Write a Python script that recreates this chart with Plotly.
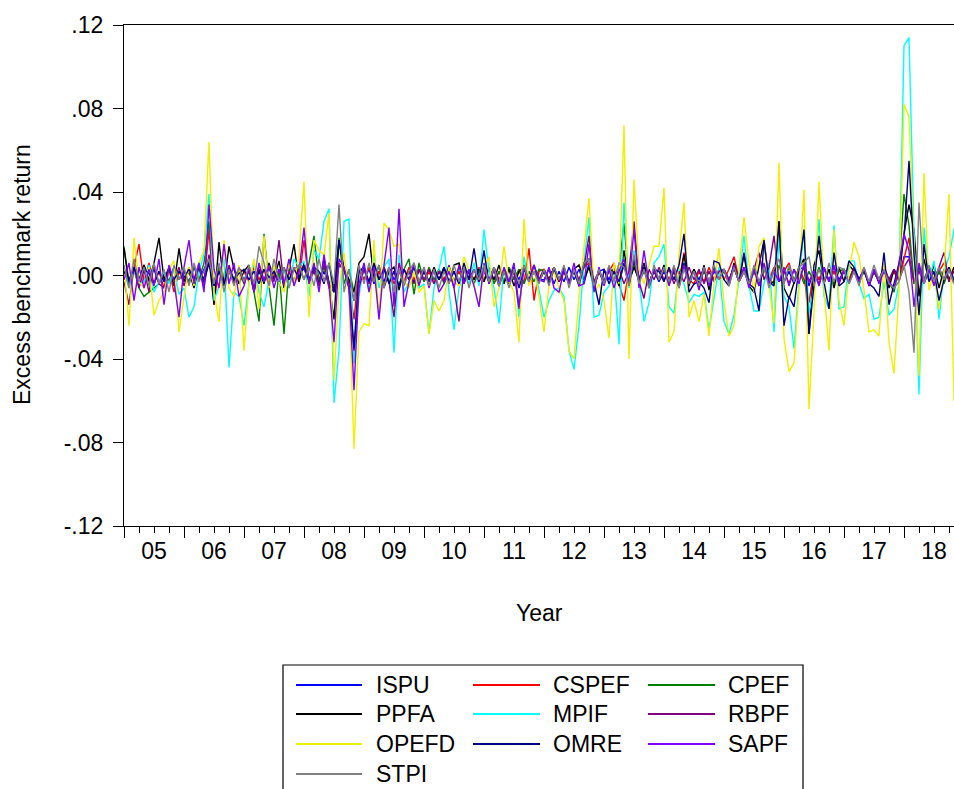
import plotly.graph_objects as go

# ---- data (values in units of 0.001, monthly 2005M01..2018M12) ----
years = ["05", "06", "07", "08", "09", "10", "11", "12", "13", "14", "15", "16", "17", "18"]
series_names = ["ISPU", "CSPEF", "CPEF", "PPFA", "MPIF", "RBPF", "OPEFD", "OMRE", "SAPF", "STPI"]
series_colors = ["#0000FF", "#FF0000", "#008000", "#000000", "#00FFFF", "#800080",
                 "#F0F000", "#000080", "#8000FF", "#808080"]

ISPU = [3,-2,4,-3,5,-2,3,-4,2,-3,4,-2,
        2,-3,4,-2,3,8,-4,2,-3,4,-2,3,
        -2,3,-4,2,-3,4,-2,3,-4,2,-3,2,
        3,-2,4,-3,2,-4,-8,5,3,-2,-12,3,
        -2,3,-4,2,-3,4,-2,3,-4,2,-3,2,
        2,-3,3,-2,4,-3,2,-4,3,-2,3,-3,
        3,-2,4,-3,2,-4,3,-2,4,-3,2,-2,
        -2,3,-4,2,-3,4,-2,3,-4,6,-3,2,
        3,-2,4,-3,5,-4,6,-2,3,-4,2,-3,
        2,-3,4,-2,6,-4,3,-2,4,-3,2,-2,
        3,-2,4,-3,2,-4,3,-5,4,-2,3,-2,
        -3,2,-4,3,4,-5,3,-2,4,-3,2,-2,
        2,-3,4,-2,3,-4,2,-3,4,-2,3,-2,
        9,9,-3,4,-2,3,-4,2,-3,4,-2,2]

CSPEF = [2,-5,4,15,-3,6,-4,2,-6,3,-8,2,
         -3,4,-2,6,-4,22,-14,5,-3,2,-4,3,
         2,-3,4,-2,3,-5,2,-4,3,-2,4,-3,
         17,-4,3,-2,5,-6,-4,6,2,-4,-21,3,
         -2,4,-3,2,-5,3,-4,2,-3,4,-2,3,
         -3,2,-4,3,-2,4,-3,2,-4,3,-2,4,
         -2,3,-4,2,-3,4,-2,3,-4,13,-12,2,
         3,-2,4,-3,2,-4,3,-2,4,6,-3,2,
         -3,2,6,-4,-12,3,5,-2,4,-3,2,-2,
         3,-2,4,-3,11,-2,-4,2,-3,4,-2,3,
         -2,3,9,-2,4,-3,2,-4,3,-2,4,-3,
         2,6,-3,4,-2,-13,3,-2,4,-3,2,-4,
         3,-2,4,-3,2,-4,3,-2,4,-3,2,-3,
         8,18,-4,3,-2,4,-3,2,6,-3,4,-2]

CPEF = [14,-4,3,-6,-10,-8,-6,-4,2,-3,4,-2,
        3,-4,5,-2,6,26,-3,4,-5,3,-2,4,
        -3,2,-8,-22,20,-5,-24,3,-28,4,-3,5,
        -2,6,19,-3,4,-5,-6,18,-4,3,-8,2,
        3,-4,5,-2,4,-3,2,-5,3,8,-9,6,
        -3,4,-2,3,-4,2,-3,4,-2,3,-4,2,
        -2,3,-4,2,-3,4,-2,3,-4,2,-3,3,
        2,-3,4,-2,3,-4,2,-3,4,8,-4,2,
        -3,4,-2,3,25,-4,5,-3,2,-4,3,-2,
        3,-4,2,-3,4,-2,3,-4,2,-3,4,-2,
        2,-3,4,-2,3,-5,2,-4,3,-2,-4,5,
        -3,4,-2,3,-4,2,-3,4,-2,3,-4,2,
        3,-2,4,-3,2,-4,3,-2,4,-3,-8,4,
        39,24,-4,3,-2,4,-3,2,-4,3,-2,2]

PPFA = [13,-4,3,-2,5,-3,6,18,-2,4,-5,13,
        -3,2,-6,4,-2,8,-14,16,-5,14,3,-4,
        2,5,-8,3,-4,6,-2,7,-6,3,15,-3,
        6,-2,4,-5,8,-3,-21,17,3,-2,-8,6,
        9,20,-3,5,-6,2,4,-7,3,-2,5,-4,
        2,-3,4,-2,3,-4,5,6,-3,2,-2,3,
        -3,4,-2,5,-4,3,-5,2,4,-3,2,-2,
        3,-2,4,-3,2,-4,3,5,-2,4,-6,2,
        -4,3,2,-5,12,-3,4,-2,6,-4,3,-2,
        5,-3,2,-4,10,-5,3,-6,5,-7,4,-2,
        3,-4,6,-3,10,-5,-8,4,17,-4,-3,26,
        -6,-11,-3,4,8,-28,5,12,-4,3,-6,4,
        -3,5,2,-4,3,-5,2,-3,4,-6,3,-2,
        20,34,22,-10,8,-3,5,-6,3,-2,4,-1]

MPIF = [3,-6,2,-4,-3,5,-8,-3,2,-4,3,-9,
        -6,-20,-15,2,10,39,-12,-5,8,-44,-8,-10,
        -24,-3,6,-8,-15,-2,5,-4,3,-6,8,4,
        7,-10,12,8,26,32,-61,-36,26,27,-42,-10,
        6,-8,10,-6,4,8,-37,10,-8,-3,5,-6,
        -4,-28,-6,3,14,-8,-26,-6,3,-4,6,-5,
        22,2,-6,-23,4,-3,6,-20,9,-4,5,-7,
        -20,-12,-7,-6,-10,-36,-45,-24,6,28,-20,-19,
        -8,-5,2,-33,35,-6,12,-3,-22,-13,6,9,
        15,-15,-18,3,-4,-13,-9,-10,-8,-26,-10,4,
        -22,-28,-19,-2,19,-5,-17,-17,-4,6,-27,19,
        -10,-15,-35,-4,22,-18,-6,27,-10,-16,24,-16,
        -15,7,7,-4,-11,-9,-21,-20,-3,-19,-16,-4,
        110,114,20,-57,23,-2,7,-21,2,9,22,20]

RBPF = [-3,-14,4,-6,3,-8,5,-4,-6,3,-2,4,
        -5,3,-2,4,-6,10,-3,2,-4,5,-3,2,
        -4,3,-6,5,-2,4,-3,17,-5,2,-4,3,
        4,-3,2,-5,6,-4,-8,5,3,-4,-36,-6,
        3,-4,5,-2,4,-3,-20,6,-3,2,-4,3,
        -2,3,-4,2,-3,5,-6,-22,4,-2,3,-3,
        2,-3,4,-2,3,-4,2,-16,5,-3,2,-2,
        3,-2,4,-3,2,-4,3,-2,4,19,-5,2,
        -3,4,-2,3,-4,2,26,-3,-11,3,-2,4,
        -2,3,-4,2,-3,4,-2,3,-4,2,-3,2,
        3,-2,4,-3,2,-4,3,11,-2,4,19,-3,
        2,-4,3,-2,4,-3,2,-4,3,-2,4,-3,
        2,-3,4,-2,3,-4,2,-3,4,-2,3,-2,
        4,8,-3,2,-4,3,-2,4,11,-3,2,-2]

OPEFD = [5,-24,18,-3,-6,4,-19,-12,-8,3,7,-27,
         -10,4,-5,6,12,64,-8,-22,17,-6,-10,5,
         -36,-4,8,-16,19,-6,5,-3,-8,6,-4,9,
         45,-20,17,12,10,30,-50,-6,11,-10,-83,-27,
         -23,-24,17,-21,25,22,14,15,-3,-6,2,-8,
         -5,-28,-12,-17,-12,4,-3,-5,9,2,-4,-15,
         3,9,-15,-6,14,-3,-8,-32,27,-5,3,-10,
         -27,-4,2,-6,-12,-36,-40,-10,15,37,-8,-4,
         -12,-30,6,-4,72,-40,46,3,-4,5,14,14,
         42,-32,-27,10,35,-20,-12,-22,-9,-29,-4,13,
         -13,-29,-24,3,28,6,-8,14,18,-5,-23,54,
         -30,-46,-42,-6,41,-64,-18,45,-7,-36,22,-12,
         -24,2,16,9,-7,-27,-26,-29,6,-32,-47,-7,
         82,76,18,-48,49,-7,2,-16,2,39,-60,-10]

OMRE = [2,-3,4,-2,3,1,-4,2,-3,3,-2,2,
        -1,3,-2,4,-3,6,-5,2,-4,3,-2,1,
        3,-2,2,-4,3,-1,2,-3,4,-2,3,-1,
        5,-3,4,2,-4,6,-8,17,3,-6,-35,2,
        4,-3,6,-2,3,-4,2,-5,3,-2,4,-3,
        2,-3,3,-2,4,-3,2,-4,6,-2,13,-3,
        12,-4,3,-5,2,-3,4,-6,3,-2,5,-3,
        2,-4,3,-2,4,-3,2,-5,6,8,-3,-14,
        3,-4,2,-3,6,-5,8,-3,4,-6,3,2,
        -3,4,-2,5,20,-8,-4,-3,-6,-13,7,6,
        -2,-5,4,-3,11,-4,-6,-17,17,-3,-5,26,
        -24,-10,-15,3,22,-28,-4,19,-3,-16,11,-5,
        -3,7,4,-2,3,-4,-6,-10,11,-14,-4,6,
        18,55,10,-19,15,-3,2,-12,-2,4,-3,2]

SAPF = [-2,6,-12,4,-6,3,-5,8,-14,5,-3,-20,
        4,17,-4,6,-8,34,3,-6,15,-4,6,-10,
        -5,4,-8,6,-3,5,-6,3,-4,8,-5,2,
        23,-4,6,-8,10,-5,-32,8,4,-6,-55,-4,
        6,-8,4,-21,5,23,-15,32,-15,-3,6,-5,
        4,-6,3,-8,-4,2,-6,5,-4,3,-5,-15,
        6,-4,3,-5,4,-3,6,-15,4,-3,5,-2,
        -3,4,-6,-8,3,-4,6,-5,-4,15,-8,4,
        -5,3,-6,2,8,-4,22,-6,12,-4,3,-2,
        4,-5,3,-6,5,-3,2,-7,4,-5,3,-2,
        3,-4,5,-3,4,-6,3,-5,6,-4,2,-3,
        4,-5,3,-4,6,-3,2,-5,4,-3,5,-4,
        3,-4,2,-3,4,-5,3,-4,2,-3,-6,5,
        20,12,-15,6,-4,3,-5,4,-2,3,-4,2]

STPI = [5,-6,8,-3,4,-5,6,-4,3,-8,5,-2,
        4,-5,6,-3,2,8,-4,6,-8,3,-5,4,
        -3,5,-4,14,6,-5,8,-3,4,-6,3,5,
        -2,4,-5,8,-3,6,-4,34,-8,3,-12,5,
        -4,6,-3,5,-6,4,-8,3,-5,2,6,-3,
        4,-5,3,-6,2,-4,5,-3,4,-6,3,-2,
        5,-3,4,-5,2,-6,3,-4,5,-3,2,-4,
        3,-5,4,-2,5,-6,3,-4,6,8,-5,3,
        -4,5,-3,6,4,-5,10,-4,3,-6,5,-2,
        4,-3,5,-6,3,-4,2,-5,4,-3,5,-2,
        3,-5,4,-3,2,-4,5,-3,4,-6,3,8,
        -4,5,-3,4,6,9,-5,3,-4,6,-3,4,
        3,-4,2,-5,4,-3,5,-2,3,-4,-6,-3,
        5,-8,-37,35,-4,5,-3,4,-2,3,-4,2]

all_series = [ISPU, CSPEF, CPEF, PPFA, MPIF, RBPF, OPEFD, OMRE, SAPF, STPI]

y_tickvals = [-0.12, -0.08, -0.04, 0.0, 0.04, 0.08, 0.12]
y_ticktext = ["-.12", "-.08", "-.04", ".00", ".04", ".08", ".12"]

# ---- layout constants (pixels) ----
W, H = 954, 789
L, R, T, B = 124, 954, 25, 526
FONT = "Arial, Liberation Sans, sans-serif"
FS = 23

def px_x(p):
    return (p - L) / (R - L)

def px_y(p):
    return (B - p) / (B - T)

months = list(range(len(OPEFD)))

fig = go.Figure()
for name, col, vals in zip(series_names, series_colors, all_series):
    fig.add_trace(go.Scatter(
        x=months, y=[v / 1000 for v in vals], mode="lines", name=name,
        line=dict(color=col, width=1.4), showlegend=False))

# dummy trace for the second x axis (long year-boundary ticks)
fig.add_trace(go.Scatter(x=[0, 166], y=[None, None], xaxis="x2", mode="lines",
                         showlegend=False, hoverinfo="skip"))

year_centers = [12 * k + 6 for k in range(len(years))]
year_bounds = [12 * k for k in range(len(years) + 1)]
quarters = [3 * k for k in range(4 * len(years) + 1)]

fig.update_layout(
    width=W, height=H,
    margin=dict(l=L, r=W - R, t=T, b=H - B, pad=0),
    paper_bgcolor="white", plot_bgcolor="white",
    font=dict(family=FONT, size=FS, color="black"),
    showlegend=False,
    xaxis=dict(range=[0, 166], tickmode="array", tickvals=year_centers, ticktext=years,
               ticks="", showgrid=False, zeroline=False, showline=True, linecolor="black",
               linewidth=1.2, mirror=True, ticklabelstandoff=4,
               tickfont=dict(family=FONT, size=FS, color="black"),
               minor=dict(tickmode="array", tickvals=quarters, ticks="outside", ticklen=6,
                          tickcolor="black", tickwidth=1, showgrid=False)),
    xaxis2=dict(range=[0, 166], overlaying="x", anchor="y", side="bottom",
                tickmode="array", tickvals=year_bounds, ticks="outside", ticklen=11,
                tickcolor="black", tickwidth=1, showticklabels=False, showgrid=False,
                zeroline=False, showline=False),
    yaxis=dict(range=[-0.12, 0.12], tickmode="array", tickvals=y_tickvals, ticktext=y_ticktext,
               ticks="outside", ticklen=10, tickcolor="black", showgrid=False, zeroline=False,
               showline=True, linecolor="black", linewidth=1.2, ticklabelstandoff=5,
               tickfont=dict(family=FONT, size=FS, color="black")),
)

annotations = [
    dict(text="Year", x=px_x(539), y=px_y(613), xref="paper", yref="paper",
         showarrow=False, xanchor="center", yanchor="middle",
         font=dict(family=FONT, size=FS, color="black")),
    dict(text="Excess benchmark return", x=px_x(22), y=px_y(275), xref="paper", yref="paper",
         showarrow=False, xanchor="center", yanchor="middle", textangle=-90,
         font=dict(family=FONT, size=FS, color="black")),
]

shapes = [dict(type="rect", xref="paper", yref="paper", x0=px_x(283), x1=px_x(803),
               y0=px_y(665), y1=px_y(800), line=dict(color="black", width=1.2),
               fillcolor="rgba(0,0,0,0)", layer="above")]

col_line_x = [(296, 362), (473, 540), (648, 715)]
col_text_x = [374, 551, 726]
row_y = [685, 714, 744, 774]
for k, (name, col) in enumerate(zip(series_names, series_colors)):
    r, c = divmod(k, 3)
    x0, x1 = col_line_x[c]
    yy = row_y[r]
    shapes.append(dict(type="line", xref="paper", yref="paper", x0=px_x(x0), x1=px_x(x1),
                       y0=px_y(yy), y1=px_y(yy), line=dict(color=col, width=2)))
    annotations.append(dict(text=name, x=px_x(col_text_x[c]), y=px_y(yy), xref="paper",
                            yref="paper", showarrow=False, xanchor="left", yanchor="middle",
                            font=dict(family=FONT, size=FS, color="black")))

fig.update_layout(annotations=annotations, shapes=shapes)
fig.write_html("out.html")
